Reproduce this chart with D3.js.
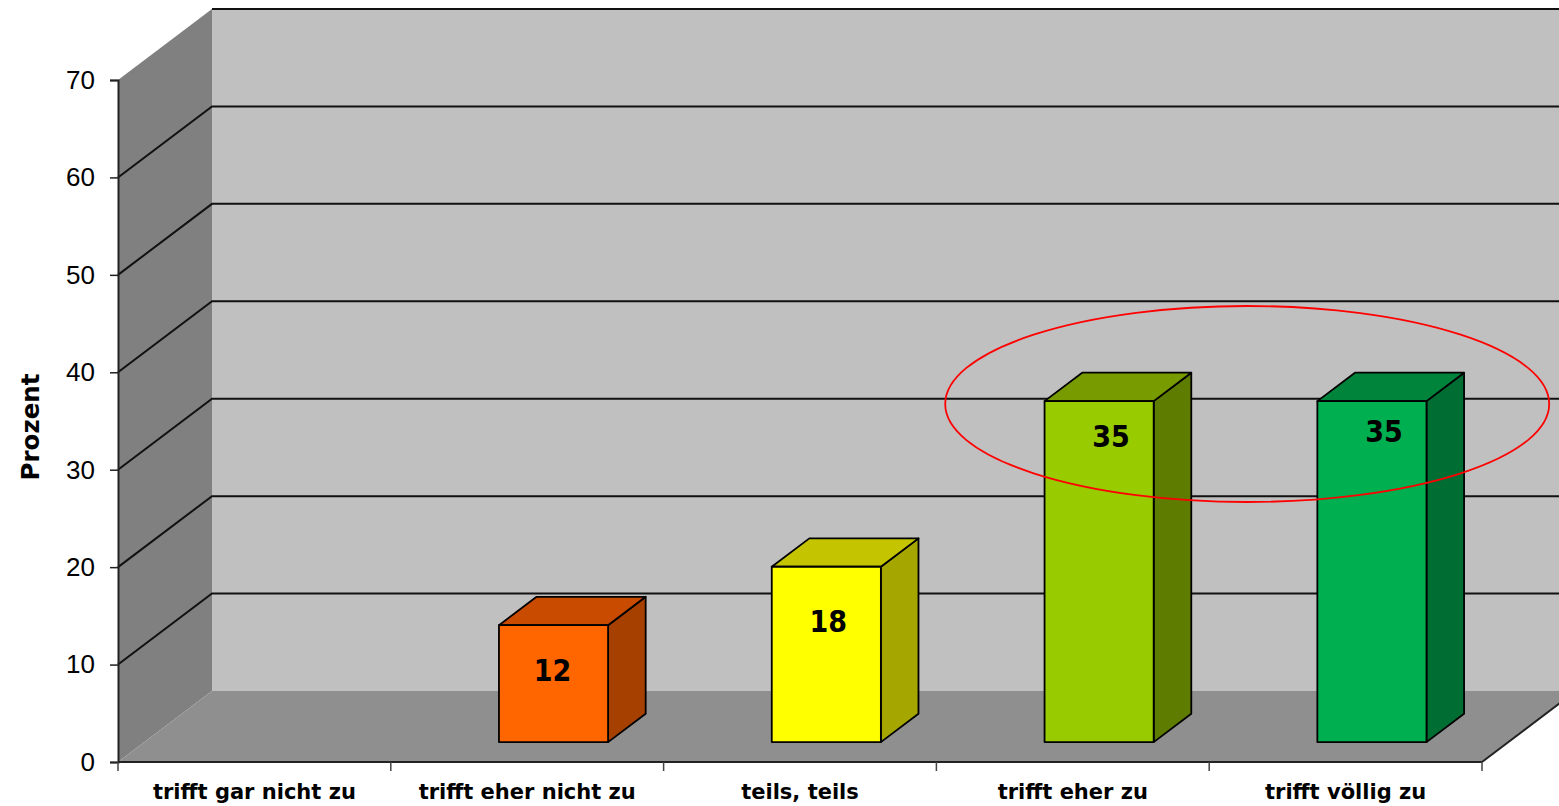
<!DOCTYPE html>
<meta charset="utf-8">

<body style="margin:0;background:#fff">
  <div id="box"></div>
  <script src="https://d3js.org/d3.v7.min.js"></script>
  <script>
    var categories = ["trifft gar nicht zu", "trifft eher nicht zu", "teils, teils", "trifft eher zu", "trifft völlig zu"];
    var values = [0, 12, 18, 35, 35];
    var yTicks = [0, 10, 20, 30, 40, 50, 60, 70];
    var frontColors = ["#808080", "#ff6600", "#ffff00", "#99cc00", "#00b050"];
    var topColors = ["#606060", "#c84b00", "#c4c400", "#789c00", "#00843c"];
    var sideColors = ["#505050", "#a64000", "#a6a600", "#5e7d00", "#006e33"];

    var width = 1559, height = 806;
    // depth offset of the 3d box
    var depthX = 94, depthY = -71;

    var x = d3.scaleBand().domain(categories).range([118, 1482]);
    var y = d3.scaleLinear().domain([0, 70]).range([762, 80]);

    // project a point (x front, value, depth 0..1)
    function p(px, v, d) {
      return [px + depthX * d, y(v) + depthY * d];
    }

    var svg = d3.select("#box").append("svg")
      .attr("width", width)
      .attr("height", height);

    var x0 = x.range()[0], x1 = x.range()[1];

    // left wall
    svg.append("polygon")
      .attr("points", [p(x0, 70, 0), p(x0, 70, 1), p(x0, 0, 1), p(x0, 0, 0)].join(" "))
      .attr("fill", "#808080");

    // back wall
    svg.append("polygon")
      .attr("points", [p(x0, 70, 1), p(x1, 70, 1), p(x1, 0, 1), p(x0, 0, 1)].join(" "))
      .attr("fill", "#c0c0c0");

    // floor
    svg.append("polygon")
      .attr("points", [p(x0, 0, 0), p(x0, 0, 1), p(x1, 0, 1), p(x1, 0, 0)].join(" "))
      .attr("fill", "#8f8f8f");

    // gridlines
    var grid = svg.append("g").attr("stroke", "#111").attr("stroke-width", 2).attr("fill", "none");
    yTicks.filter(function(t) { return t > 0; }).forEach(function(t) {
      var pts = t < 70 ? [p(x0, t, 0), p(x0, t, 1), p(x1, t, 1)] : [p(x0, t, 1), p(x1, t, 1)];
      grid.append("polyline").attr("points", pts.join(" "));
    });

    // floor right edge
    svg.append("line")
      .attr("x1", p(x1, 0, 0)[0]).attr("y1", p(x1, 0, 0)[1])
      .attr("x2", p(x1, 0, 1)[0]).attr("y2", p(x1, 0, 1)[1])
      .attr("stroke", "#222").attr("stroke-width", 2);

    // axes
    var yAxis = svg.append("g")
      .attr("transform", "translate(" + x0 + ",0)")
      .call(d3.axisLeft(y).tickValues(yTicks).tickSize(8).tickPadding(15));
    yAxis.select(".domain").attr("stroke", "#222").attr("stroke-width", 2);
    yAxis.selectAll(".tick line").attr("stroke", "#222").attr("stroke-width", 1.5);
    yAxis.selectAll("text")
      .attr("font-family", "Liberation Sans, Arial, sans-serif")
      .attr("font-size", 26)
      .attr("fill", "#000");

    var xAxis = svg.append("g")
      .attr("transform", "translate(0," + y(0) + ")");
    xAxis.append("line")
      .attr("x1", x0).attr("x2", x1).attr("y1", 0).attr("y2", 0)
      .attr("stroke", "#222").attr("stroke-width", 2);
    xAxis.selectAll(".tk")
      .data(categories.concat([null]))
      .enter().append("line")
      .attr("x1", function(d, i) { return i < categories.length ? x(d) : x1; })
      .attr("x2", function(d, i) { return i < categories.length ? x(d) : x1; })
      .attr("y1", 0).attr("y2", 9)
      .attr("stroke", "#444").attr("stroke-width", 1.5);
    xAxis.selectAll(".lbl")
      .data(categories)
      .enter().append("text")
      .attr("x", function(d) { return x(d) + x.bandwidth() / 2; })
      .attr("y", 37)
      .attr("text-anchor", "middle")
      .attr("font-family", "DejaVu Sans, sans-serif")
      .attr("font-weight", "bold")
      .attr("font-size", 21)
      .text(function(d) { return d; });

    // y title
    svg.append("text")
      .attr("transform", "translate(39,427) rotate(-90)")
      .attr("text-anchor", "middle")
      .attr("font-family", "DejaVu Sans, sans-serif")
      .attr("font-weight", "bold")
      .attr("font-size", 24.5)
      .text("Prozent");

    // bars
    var bw = x.bandwidth() * 0.4;
    var dFront = 0.28, dBack = 0.68;
    // small nudges of the value labels, as placed in the original
    var labelShift = [[0, 0], [-5, 0], [-2, 9], [8, -10], [8, -15]];
    var bars = svg.append("g")
      .attr("stroke", "#000").attr("stroke-width", 1.8).attr("stroke-linejoin", "round");

    values.forEach(function(v, i) {
      if (v <= 0) return;
      var cx = x(categories[i]) + x.bandwidth() / 2;
      var l = cx - bw / 2, r = cx + bw / 2;
      // side
      bars.append("polygon")
        .attr("points", [p(r, v, dFront), p(r, v, dBack), p(r, 0, dBack), p(r, 0, dFront)].join(" "))
        .attr("fill", sideColors[i]);
      // top
      bars.append("polygon")
        .attr("points", [p(l, v, dFront), p(l, v, dBack), p(r, v, dBack), p(r, v, dFront)].join(" "))
        .attr("fill", topColors[i]);
      // front
      bars.append("polygon")
        .attr("points", [p(l, v, dFront), p(r, v, dFront), p(r, 0, dFront), p(l, 0, dFront)].join(" "))
        .attr("fill", frontColors[i]);
      var tp = p(cx, v, dFront);
      svg.append("text")
        .attr("x", tp[0] + 4 + labelShift[i][0])
        .attr("y", tp[1] + 56 + labelShift[i][1])
        .attr("text-anchor", "middle")
        .attr("font-family", "DejaVu Sans Condensed, DejaVu Sans, sans-serif")
        .attr("font-weight", "bold")
        .attr("font-size", 30)
        .text(v);
    });

    // highlight ellipse around the two top answers
    var e1 = x(categories[3]), e2 = x(categories[4]) + x.bandwidth();
    svg.append("ellipse")
      .attr("cx", (e1 + e2) / 2 + 38)
      .attr("cy", y(35) - 17)
      .attr("rx", 302)
      .attr("ry", 98)
      .attr("fill", "none")
      .attr("stroke", "#ff0000")
      .attr("stroke-width", 1.8);
  </script>
</body>
